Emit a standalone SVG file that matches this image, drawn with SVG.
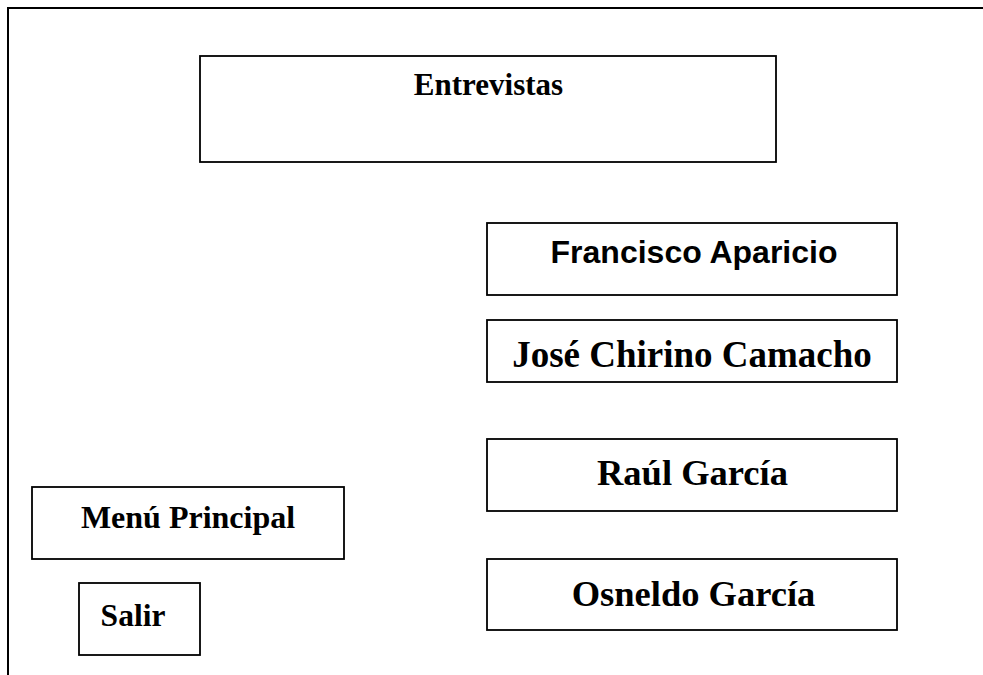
<svg xmlns="http://www.w3.org/2000/svg" width="983" height="675" viewBox="0 0 983 675">
  <style>
    .box { fill: #fff; stroke: #000; stroke-width: 1.8; }
    .frame { fill: none; stroke: #000; stroke-width: 2; }
    .serif { font-family: "Liberation Serif", "Times New Roman", serif; font-weight: bold; fill: #000; text-anchor: middle; }
    .sans { font-family: "Liberation Sans", Arial, sans-serif; font-weight: bold; fill: #000; text-anchor: middle; }
  </style>
  <rect width="983" height="675" fill="#fff"/>
  <!-- page frame, open at the right and bottom -->
  <path class="frame" d="M8,676 V8 H984"/>

  <g id="entrevistas">
    <rect class="box" x="200" y="56" width="576" height="106"/>
    <text class="serif" x="488.5" y="95" font-size="31">Entrevistas</text>
  </g>

  <g id="francisco-aparicio">
    <rect class="box" x="487" y="223" width="410" height="72"/>
    <text class="sans" x="694" y="263" font-size="32">Francisco Aparicio</text>
  </g>

  <g id="jose-chirino-camacho">
    <rect class="box" x="487" y="320" width="410" height="62"/>
    <text class="serif" x="692" y="367" font-size="37">José Chirino Camacho</text>
  </g>

  <g id="raul-garcia">
    <rect class="box" x="487" y="439" width="410" height="72"/>
    <text class="serif" x="692.5" y="485" font-size="36.5">Raúl García</text>
  </g>

  <g id="osneldo-garcia">
    <rect class="box" x="487" y="559" width="410" height="71"/>
    <text class="serif" x="693.5" y="606" font-size="36.5">Osneldo García</text>
  </g>

  <g id="menu-principal">
    <rect class="box" x="32" y="487" width="312" height="72"/>
    <text class="serif" x="188" y="528" font-size="32">Menú Principal</text>
  </g>

  <g id="salir">
    <rect class="box" x="79" y="583" width="121" height="72"/>
    <text class="serif" x="133" y="626" font-size="31.5">Salir</text>
  </g>

  <!-- no connectors are drawn between the nodes -->
  <g id="connectors"/>
</svg>
